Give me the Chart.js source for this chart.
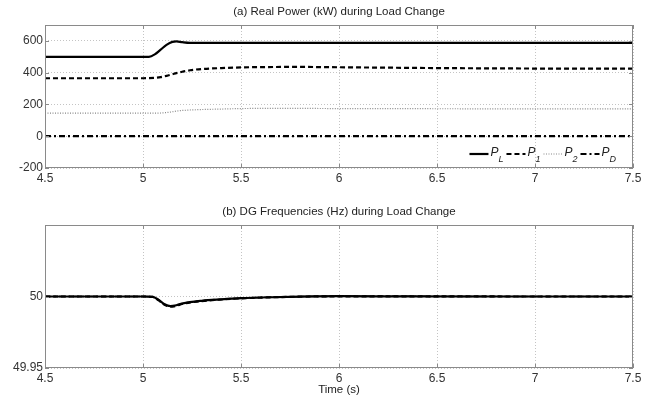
<!DOCTYPE html>
<html>
<head>
<meta charset="utf-8">
<script src="https://cdn.jsdelivr.net/npm/chart.js@4"></script>
<style>
  body { margin: 0; background: #fff; }
  .box { position: relative; width: 657px; }
  #top { height: 200px; }
  #bot { height: 198px; }
</style>
</head>
<body>
<div class="box" id="top"><canvas id="powerChart"></canvas></div>
<div class="box" id="bot"><canvas id="freqChart"></canvas></div>
<script>
// (a) real power, kW
const time = [4.5, 5.0, 5.03, 5.06, 5.09, 5.12, 5.15, 5.17, 5.2, 5.24, 5.3, 5.4, 5.5, 5.6, 5.8, 6.0, 6.5, 7.0, 7.5];
const pL = [500, 500, 500, 515, 545, 575, 594, 597, 592, 588, 588, 588, 588, 588, 588, 588, 588, 588, 588];
const p1 = [365, 365, 366, 368, 372, 380, 390, 397, 406, 415, 423, 429, 433, 435, 436, 434, 429, 426, 425];
const p2 = [145, 145, 145, 145, 146, 149, 154, 158, 162, 165, 168, 171, 174, 175, 175, 174, 173, 172, 172];
const pD = [0, 0, 0, 0, 0, 0, 0, 0, 0, 0, 0, 0, 0, 0, 0, 0, 0, 0, 0];

// (b) DG frequencies, Hz
const tf = [4.5, 5.0, 5.05, 5.08, 5.11, 5.14, 5.17, 5.2, 5.3, 5.4, 5.5, 5.6, 5.8, 6.0, 6.3, 7.0, 7.5];
const f1 = [50, 50, 49.9998, 49.9976, 49.9946, 49.9933, 49.9939, 49.9951, 49.9970, 49.9980, 49.9988, 49.9993, 49.9999, 50.0002, 50.0001, 50, 50];
const f2 = [50, 50, 49.9997, 49.9973, 49.9942, 49.9929, 49.9935, 49.9948, 49.9968, 49.9979, 49.9987, 49.9992, 49.9999, 50.0001, 50.0001, 50, 50];
const fD = [50, 50, 49.9998, 49.9975, 49.9944, 49.9931, 49.9937, 49.9950, 49.9969, 49.9980, 49.9988, 49.9993, 49.9999, 50.0001, 50.0001, 50, 50];

const xTicks = [4.5, 5, 5.5, 6, 6.5, 7, 7.5];
const powerTicks = [-200, 0, 200, 400, 600];
const freqTicks = [49.95, 50];

const FONT = "'Liberation Sans', Arial, sans-serif";
Chart.defaults.font.family = FONT;
Chart.defaults.font.size = 11;
Chart.defaults.color = '#333';

const pts = (xs, ys) => xs.map((x, i) => ({ x: x, y: ys[i] }));

function line(label, sub, data, width, dash, color) {
  return {
    label: label, sub: sub, data: data,
    borderColor: color || '#000', borderWidth: width, borderDash: dash,
    pointRadius: 0, fill: false, cubicInterpolationMode: 'monotone'
  };
}

// title over the plot + full frame with inward ticks (matlab look)
const framePlugin = {
  id: 'frame',
  afterDraw(chart, args, opts) {
    const { ctx, chartArea: a, scales } = chart;
    ctx.save();
    ctx.strokeStyle = '#8a8a8a';
    ctx.lineWidth = 1;
    ctx.strokeRect(a.left + 0.5, a.top + 0.5, a.right - a.left - 1, a.bottom - a.top - 1);
    ctx.beginPath();
    scales.x.ticks.forEach(t => {
      const px = Math.round(scales.x.getPixelForValue(t.value)) + 0.5;
      ctx.moveTo(px, a.bottom); ctx.lineTo(px, a.bottom - 4);
      ctx.moveTo(px, a.top); ctx.lineTo(px, a.top + 4);
    });
    scales.y.ticks.forEach(t => {
      const py = Math.round(scales.y.getPixelForValue(t.value)) + 0.5;
      ctx.moveTo(a.left, py); ctx.lineTo(a.left + 4, py);
      ctx.moveTo(a.right, py); ctx.lineTo(a.right - 4, py);
    });
    ctx.stroke();
    ctx.fillStyle = '#222';
    ctx.font = '11.5px ' + FONT;
    ctx.textAlign = 'center';
    ctx.textBaseline = 'middle';
    ctx.fillText(opts.text, (a.left + a.right) / 2, 12);
    ctx.restore();
  }
};

// legend drawn inside the lower right corner of the plot
const legendPlugin = {
  id: 'innerLegend',
  afterDraw(chart, args, opts) {
    if (!opts.show) return;
    const { ctx, chartArea: a } = chart;
    const ds = chart.data.datasets;
    ctx.save();
    const big = 'italic 12px ' + FONT, small = 'italic 9px ' + FONT;
    const sample = 19, gap = 2;
    const widths = ds.map(d => {
      ctx.font = big; const w1 = ctx.measureText(d.label).width;
      ctx.font = small; const w2 = ctx.measureText(d.sub).width;
      return sample + gap + w1 + w2 + 3;
    });
    const total = widths.reduce((s, w) => s + w, 0);
    let x = a.right - 14 - total;
    const y = a.bottom - 14;
    ds.forEach((d, i) => {
      ctx.strokeStyle = d.borderColor;
      ctx.lineWidth = d.borderWidth;
      ctx.setLineDash(d.borderDash || []);
      ctx.beginPath(); ctx.moveTo(x, y); ctx.lineTo(x + sample, y); ctx.stroke();
      ctx.setLineDash([]);
      ctx.fillStyle = '#222';
      ctx.textBaseline = 'middle';
      ctx.textAlign = 'left';
      ctx.font = big;
      let tx = x + sample + gap;
      ctx.fillText(d.label, tx, y - 1);
      tx += ctx.measureText(d.label).width;
      ctx.font = small;
      ctx.fillText(d.sub, tx, y + 5);
      x += widths[i];
    });
    ctx.restore();
  }
};

function xScale(showTitle) {
  return {
    type: 'linear', min: 4.5, max: 7.5,
    afterBuildTicks: s => { s.ticks = xTicks.map(v => ({ value: v })); },
    afterFit: s => { s.height = showTitle ? 30 : 32; },
    ticks: { padding: 3, color: '#333', font: { size: 12 }, callback: v => String(v) },
    grid: { color: '#c4c4c4', drawTicks: false },
    border: { display: false, dash: [1, 2] },
    title: { display: showTitle, text: 'Time (s)', color: '#222', font: { size: 11.5 }, padding: { top: 0, bottom: 1 } }
  };
}

function yScale(min, max, ticks) {
  return {
    min: min, max: max,
    afterBuildTicks: s => { s.ticks = ticks.map(v => ({ value: v })); },
    afterFit: s => { s.width = 45; },
    ticks: { padding: 2, color: '#333', font: { size: 12 }, callback: v => String(v) },
    grid: { color: '#c4c4c4', drawTicks: false },
    border: { display: false, dash: [1, 2] }
  };
}

new Chart(document.getElementById('powerChart'), {
  type: 'line',
  data: {
    datasets: [
      line('P', 'L', pts(time, pL), 2.2, []),
      line('P', '1', pts(time, p1), 2.2, [5, 3]),
      line('P', '2', pts(time, p2), 1.2, [1, 1.5], '#888'),
      line('P', 'D', pts(time, pD), 2.2, [6, 3, 2, 3])
    ]
  },
  options: {
    responsive: true, maintainAspectRatio: false, animation: false,
    layout: { padding: { top: 25, right: 24, left: 0, bottom: 0 } },
    plugins: { legend: { display: false }, tooltip: { enabled: false },
      frame: { text: '(a) Real Power (kW) during Load Change' },
      innerLegend: { show: true } },
    scales: { x: xScale(false), y: yScale(-200, 700, powerTicks) }
  },
  plugins: [framePlugin, legendPlugin]
});

new Chart(document.getElementById('freqChart'), {
  type: 'line',
  data: {
    datasets: [
      line('f', '1', pts(tf, f1), 2.2, []),
      line('f', '2', pts(tf, f2), 2.2, [5, 3]),
      line('f', 'D', pts(tf, fD), 1.5, [6, 3, 2, 3])
    ]
  },
  options: {
    responsive: true, maintainAspectRatio: false, animation: false,
    layout: { padding: { top: 25, right: 24, left: 0, bottom: 0 } },
    plugins: { legend: { display: false }, tooltip: { enabled: false },
      frame: { text: '(b) DG Frequencies (Hz) during Load Change' },
      innerLegend: { show: false } },
    scales: { x: xScale(true), y: yScale(49.95, 50.05, freqTicks) }
  },
  plugins: [framePlugin, legendPlugin]
});
</script>
</body>
</html>
